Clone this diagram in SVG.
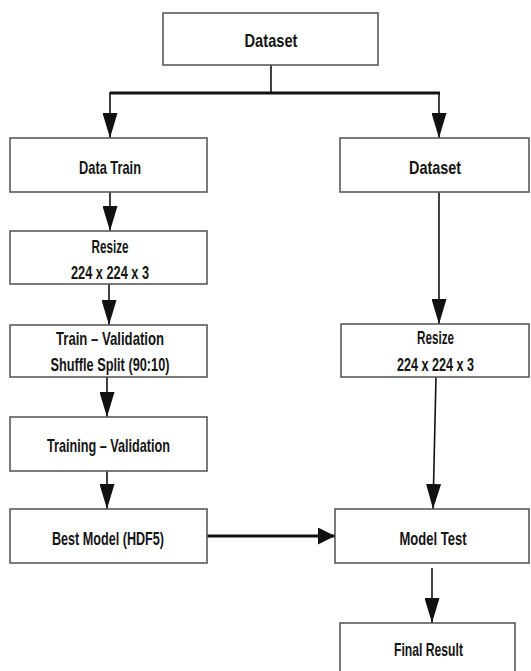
<svg xmlns="http://www.w3.org/2000/svg" width="531" height="671" viewBox="0 0 531 671">
<style>
.box{fill:#ffffff;stroke:#5a5a5a;stroke-width:1.6}
.lbl{font-family:"Liberation Sans",Arial,sans-serif;font-weight:bold;font-size:19px;fill:#151515;text-anchor:middle}
.ln{stroke:#111;stroke-width:1.6;fill:none}
.thick{stroke:#111;stroke-width:3.2;fill:none}
</style>
<defs>
<marker id="ah" markerUnits="userSpaceOnUse" markerWidth="25" markerHeight="15" refX="25" refY="7.5" orient="auto">
<path d="M0,0 L25,7.5 L0,15 z" fill="#111"/>
</marker>
<marker id="ahs" markerUnits="userSpaceOnUse" markerWidth="17" markerHeight="17" refX="17" refY="8.5" orient="auto">
<path d="M0,0 L17,8.5 L0,17 z" fill="#111"/>
</marker>
</defs>
<rect width="531" height="671" fill="#ffffff"/>
<g id="connectors">
<line class="ln" x1="271" y1="65" x2="271" y2="93"/>
<line class="thick" x1="110" y1="93" x2="440" y2="93"/>
<line class="ln" x1="110" y1="92" x2="110" y2="138" marker-end="url(#ah)"/>
<line class="ln" x1="439" y1="92" x2="439" y2="138" marker-end="url(#ah)"/>
<line class="ln" x1="110" y1="192" x2="110" y2="231" marker-end="url(#ah)"/>
<line class="ln" x1="109" y1="284" x2="109" y2="325" marker-end="url(#ah)"/>
<line class="ln" x1="107" y1="377" x2="107" y2="417" marker-end="url(#ah)"/>
<line class="ln" x1="107" y1="471" x2="107" y2="509" marker-end="url(#ah)"/>
<line class="ln" x1="439" y1="192" x2="439" y2="324" marker-end="url(#ah)"/>
<line class="ln" x1="436" y1="377" x2="433" y2="509" marker-end="url(#ah)"/>
<line class="ln" x1="432" y1="568" x2="432" y2="623" marker-end="url(#ah)"/>
<line class="thick" x1="207" y1="536" x2="335" y2="536" marker-end="url(#ahs)"/>
</g>
<g id="n-dataset-top">
<rect class="box" x="163" y="13" width="215" height="52"/>
<text class="lbl" x="271" y="47" textLength="53" lengthAdjust="spacingAndGlyphs">Dataset</text>
</g>
<g id="n-data-train">
<rect class="box" x="10" y="138" width="197" height="54"/>
<text class="lbl" x="110" y="174" textLength="62" lengthAdjust="spacingAndGlyphs">Data Train</text>
</g>
<g id="n-resize-left">
<rect class="box" x="10" y="231" width="197" height="53"/>
<text class="lbl" x="110" y="253" textLength="37" lengthAdjust="spacingAndGlyphs">Resize</text>
<text class="lbl" x="110" y="279" textLength="78" lengthAdjust="spacingAndGlyphs">224 x 224 x 3</text>
</g>
<g id="n-train-val-split">
<rect class="box" x="10" y="325" width="197" height="52"/>
<text class="lbl" x="110" y="345" textLength="108" lengthAdjust="spacingAndGlyphs">Train – Validation</text>
<text class="lbl" x="110" y="371" textLength="119" lengthAdjust="spacingAndGlyphs">Shuffle Split (90:10)</text>
</g>
<g id="n-training-val">
<rect class="box" x="10" y="417" width="197" height="54"/>
<text class="lbl" x="108.5" y="452" textLength="123" lengthAdjust="spacingAndGlyphs">Training – Validation</text>
</g>
<g id="n-best-model">
<rect class="box" x="10" y="509" width="197" height="54"/>
<text class="lbl" x="108" y="545" textLength="112" lengthAdjust="spacingAndGlyphs">Best Model (HDF5)</text>
</g>
<g id="n-dataset-right">
<rect class="box" x="340" y="138" width="189" height="54"/>
<text class="lbl" x="435" y="174" textLength="52" lengthAdjust="spacingAndGlyphs">Dataset</text>
</g>
<g id="n-resize-right">
<rect class="box" x="341" y="324" width="188" height="53"/>
<text class="lbl" x="435.5" y="344" textLength="37" lengthAdjust="spacingAndGlyphs">Resize</text>
<text class="lbl" x="435.5" y="371" textLength="77" lengthAdjust="spacingAndGlyphs">224 x 224 x 3</text>
</g>
<g id="n-model-test">
<rect class="box" x="335" y="509" width="194" height="54"/>
<text class="lbl" x="433" y="545" textLength="67" lengthAdjust="spacingAndGlyphs">Model Test</text>
</g>
<g id="n-final-result">
<rect class="box" x="340" y="623" width="175" height="60"/>
<text class="lbl" x="428.5" y="656" textLength="69" lengthAdjust="spacingAndGlyphs">Final Result</text>
</g>
</svg>
